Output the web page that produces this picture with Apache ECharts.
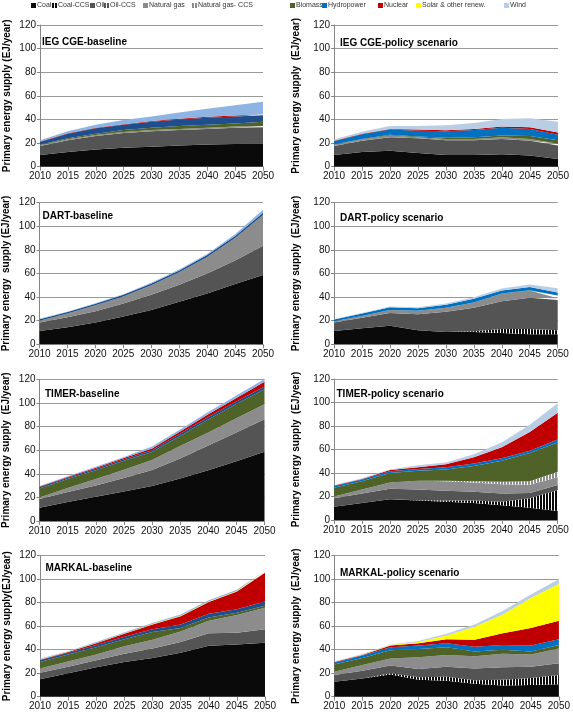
<!DOCTYPE html>
<html><head><meta charset="utf-8">
<script src="https://cdn.jsdelivr.net/npm/echarts@6/dist/echarts.min.js"></script>
<style>html,body{margin:0;padding:0;background:#fff}#c{width:573px;height:713px}</style>
</head><body><div id="c"></div>
<script>
const years = ['2010','2015','2020','2025','2030','2035','2040','2045','2050'];
const sourceNames = ['Coal','Coal-CCS','Oil','Oil-CCS','Natural gas','Natural gas- CCS','Biomass','Hydropower','Nuclear','Solar & other renew.','Wind'];
const panelTitles = ['IEG CGE-baseline','IEG CGE-policy scenario','DART-baseline','DART-policy scenario','TIMER-baseline','TIMER-policy scenario','MARKAL-baseline','MARKAL-policy scenario'];
const yAxisTitles = ['Primary energy supply (EJ/year)','Primary energy supply  (EJ/year)','Primary energy  supply (EJ/year)','Primary energy supply  (EJ/year)','Primary energy supply  (EJ/year)','Primary energy supply  (EJ/year)','Primary energy supply(EJ/year)','Primary energy supply  (EJ/year)'];

// Values in EJ/year; rows follow sourceNames order
const iegBaseline = [
  [10,12.5,14.5,16,17,18,18.8,19.3,19.5],
  [0,0,0,0,0,0,0,0,0],
  [7.5,10,11.5,12.5,13,13,13.2,13.7,14],
  [0,0,0,0,0,0,0,0,0],
  [0.7,0.8,0.8,0.9,1,1,1,1,1],
  [0,0,0,0,0,0,0,0,0],
  [0.3,0.7,1.2,1.6,2,2.5,2.5,2.5,3.5],
  [2.5,4,4.5,4.5,5,5.5,6,6,5.5],
  [0.3,0.4,0.5,0.5,0.6,0.6,0.7,0.8,1],
  [0,0,0,0,0,0,0,0,0],
  [1.2,1.6,2.5,3.5,3.9,5.4,6.8,8.7,10.5]
];
const iegPolicy = [
  [10,12.5,13.5,11.5,10,10,10.5,9.5,6.5],
  [0,0,0,0,0,0,0,0,0],
  [7.5,9.5,11.5,12.5,12.5,12.5,13,12.5,11.5],
  [0,0,0,0,0,0,0,0,0],
  [1,1,1.5,1,1,1,1.5,1.5,1.5],
  [0,0,0,0,0,0,0,0,0],
  [0.2,0.5,0.5,0.5,1,1.5,1.5,2.5,3],
  [2.8,4,4.5,5,5.5,6,6.5,6,4.5],
  [0.5,0.5,0.5,1,0.8,1,1,1.5,2],
  [0,0,0,0,0,0,0,0,0],
  [1,1.5,2.5,3,4.2,5,6.5,7.5,9]
];
const dartBaseline = [
  [11.3,14.5,18.5,23.5,29,36,43,51,58.7],
  [0,0,0,0,0,0,0,0,0],
  [7.1,8.5,9.5,11,13,14.5,17,20,24.9],
  [0,0,0,0,0,0,0,0,0],
  [1.6,3,5,6,8,10.5,14,19,25.9],
  [0,0,0,0,0,0,0,0,0],
  [0,0,0,0,0,0,0,0,0],
  [1.3,1.3,1.4,1.4,1.5,1.5,1.6,1.7,2],
  [0,0,0,0,0,0,0,0,0],
  [0,0,0,0,0,0,0,0,0],
  [0.3,0.3,0.4,0.5,0.6,0.8,1,1.5,2.5]
];
const dartPolicy = [
  [11.3,13.5,15.8,12,10.5,10.5,9.5,8.5,8.5],
  [0,0,0,0,0,0.5,3.5,4.5,3.5],
  [7.2,9,10.7,13.5,17,20,23.5,26.5,25.5],
  [0,0,0,0,0,0,0,0,0],
  [1,1.5,2.5,3,3.5,4.5,6.5,6,1.5],
  [0,0,0,0,0,0,0,0,1.5],
  [0,0,0,0,0,0,0,0.3,0.8],
  [1.5,2,2.5,2,2.5,3,2.5,2.7,2.7],
  [0,0,0,0,0,0,0,0,0],
  [0,0,0,0,0,0,0,0,0],
  [0.3,0.5,0.5,0.8,1,1.3,1.8,2.2,3.5]
];
const timerBaseline = [
  [11.3,16,20.5,25,29.6,36,43,50.5,58.7],
  [0,0,0,0,0,0,0,0,0],
  [7.3,8.5,9.5,11.5,13.6,17,21,24.5,27.4],
  [0,0,0,0,0,0,0,0,0],
  [1.4,3.5,5.5,7,8.5,10.5,11,12,12.7],
  [0,0,0,0,0,0,0,0,0],
  [7.5,7.5,7.5,7.5,6.8,8.5,11,12,12.7],
  [1.2,1.2,1.3,1.3,1.5,1.8,2,2.2,2.5],
  [0.5,0.6,0.8,1,1.5,2,2.5,3,4],
  [0,0,0,0,0,0,0,0,0],
  [0.5,0.6,0.8,1,1.5,1.6,1.8,2,2.3]
];
const timerPolicy = [
  [11.3,14.5,17.6,16.5,15.5,14.5,12.5,10.5,7.7],
  [0,0,0,0.3,1,2,3,8,17.8],
  [7.2,8,8.9,9.2,8.5,7.5,7,4.5,4.3],
  [0,0,0,0,0,0,0,0,0],
  [1.5,3.5,5.5,7.5,8,8,8,7,6.5],
  [0,0,0,0,0.5,1,2,3,4.8],
  [7.5,7,8,8.5,9.5,13,18,24,24.9],
  [1.5,1.5,1.5,1.5,2,2,2,2,2.5],
  [0.3,0.5,1,1.5,2.5,5.5,9.5,16,22.8],
  [0,0,0,0,0,0,0,0,0],
  [0.2,0.5,0.5,1.5,1.5,2.5,4,6,8]
];
const markalBaseline = [
  [14.8,20,25,29.5,33,37.5,43.4,44.5,46],
  [0,0,0,0,0,0,0,0,0],
  [5.6,5.5,6,7,8,9,10.5,10,11.3],
  [0,0,0,0,0,0,0,0,0],
  [3.6,4.5,5,6.5,7.5,9,10.8,15,18.4],
  [0,0,0,0,0,0,0,0,0],
  [5.5,6,6,6,6.5,3,2.8,2,1.8],
  [1.5,1.5,2,2,2.5,3,3,3,3.5],
  [0.5,0.5,1.5,2.5,4,7,10,15,24.5],
  [0.2,0.2,0.3,0.3,0.4,0.5,0.5,0.5,0.7],
  [0.5,0.5,0.7,0.8,0.9,1,1,1,1]
];
const markalPolicy = [
  [12.8,15.5,19,14.5,13.5,11,9.5,10,10.5],
  [0,0,1,2,3.5,3,5,6,8],
  [5.6,6.5,6.5,7,8.5,10,10.5,9.5,9.9],
  [0,0,0,0,0,0,0,0,0],
  [2.9,5,6,10,10,10.5,11.5,10.5,12.7],
  [0,0,0,0,0,0,0,0,0],
  [6.2,6,7,7,6.5,4,3.5,2.5,2.9],
  [1.5,2,2.5,3,3.5,4,4,5,4.8],
  [0.5,0.5,1.5,2,3.5,6,10,15,15.9],
  [0.1,0.3,0.5,1,3,11,16,25.5,31.2],
  [0.4,0.5,0.5,1,1.5,2,3,3,4.1]
];
const panelData = [iegBaseline,iegPolicy,dartBaseline,dartPolicy,timerBaseline,timerPolicy,markalBaseline,markalPolicy];

function stripe(base, stripeCol, w) {
  const c = document.createElement('canvas');
  c.width = w; c.height = 4;
  const g = c.getContext('2d');
  g.fillStyle = base; g.fillRect(0,0,w,4);
  g.fillStyle = stripeCol; g.fillRect(w-1,0,1,4);
  return {image: c, repeat: 'repeat'};
}
const FONT = 'Liberation Sans, Arial, sans-serif';
const solid = ['#0a0a0a','#0a0a0a','#545454','#545454','#8c8c8c','#8c8c8c','#4f6228','#0070c0','#c00000','#ffff00','#b9cde5'];
const fills = [
  '#0a0a0a', stripe('#0a0a0a','#ffffff',3), '#545454', stripe('#545454','#ffffff',3),
  '#8c8c8c', stripe('#8c8c8c','#ffffff',3), '#4f6228', '#0070c0', '#c00000', '#ffff00', '#b9cde5'
];
const baselineFills = fills.slice();
baselineFills[7] = '#1f4e8c';
baselineFills[10] = '#8db4e2';

const grids = [
  {left:40, top:25, width:223, height:141.7},
  {left:334, top:25, width:224, height:141.7},
  {left:39.5, top:202.7, width:223.5, height:141.6},
  {left:334, top:202.7, width:223.7, height:141.6},
  {left:39.5, top:379.3, width:225, height:141.7},
  {left:334, top:379, width:223.7, height:141},
  {left:40, top:555.7, width:225, height:141},
  {left:334.3, top:555.7, width:227.4, height:141}
];
const titlePos = [[42,37.5],[340,38.5],[42.5,211.3],[340,213],[45,389],[336.5,389.7],[45.5,563],[340,568.7]];
const nameGaps = [28,33,28,33,28,33,28,33];

const option = {
  animation: false,
  textStyle: {fontFamily: FONT},
  grid: grids,
  title: panelTitles.map((t,i)=>({text:t, left:titlePos[i][0], top:titlePos[i][1], padding:0,
    textStyle:{fontSize:10, fontWeight:'bold', color:'#000', fontFamily:FONT}})),
  xAxis: grids.map((g,i)=>({gridIndex:i, type:'category', data:years, boundaryGap:false,
    axisLine:{lineStyle:{color:'#868686'}}, axisTick:{show:true, length:4, lineStyle:{color:'#868686'}, alignWithLabel:true},
    axisLabel:{fontSize:10, color:'#111', margin:5, fontFamily:FONT, showMinLabel:true, showMaxLabel:true, interval:0},
    splitLine:{show:false}})),
  yAxis: grids.map((g,i)=>({gridIndex:i, type:'value', min:0, max:120, interval:20,
    name: yAxisTitles[i], nameLocation:'middle', nameGap:nameGaps[i],
    nameTextStyle:{fontSize:10, fontWeight:'bold', color:'#000', fontFamily:FONT},
    axisLine:{show:true, lineStyle:{color:'#868686'}}, axisTick:{show:true, length:3, lineStyle:{color:'#868686'}},
    axisLabel:{fontSize:10, color:'#111', margin:4, fontFamily:FONT},
    splitLine:{show:true, lineStyle:{color:'#999999', width:1}}})),
  legend: sourceNames.map((n,j)=>({
    left:[31,52,90,104,143,192,290,322,378,416,504][j], top:2, padding:0,
    itemWidth:5, itemHeight:5, icon:'rect', selectedMode:false,
    textStyle:{fontSize:7, color:'#333', fontFamily:FONT, padding:[0,0,0,-4]},
    data:[{name:n, itemStyle:{color:fills[j], borderWidth:0}}]
  })),
  series: []
};
panelData.forEach((rows,i)=>{
  const isBase = i % 2 === 0;
  rows.forEach((vals,j)=>{
    option.series.push({
      type:'line', name:sourceNames[j], xAxisIndex:i, yAxisIndex:i, stack:'s'+i,
      data: vals, symbol:'none', showSymbol:false, silent:true,
      lineStyle:{width:0}, itemStyle:{color:solid[j]},
      areaStyle:{color:(isBase?baselineFills:fills)[j], opacity:1},
      emphasis:{disabled:true}
    });
  });
});
const chart = echarts.init(document.getElementById('c'), null, {renderer:'canvas'});
chart.setOption(option);
</script>
</body></html>
